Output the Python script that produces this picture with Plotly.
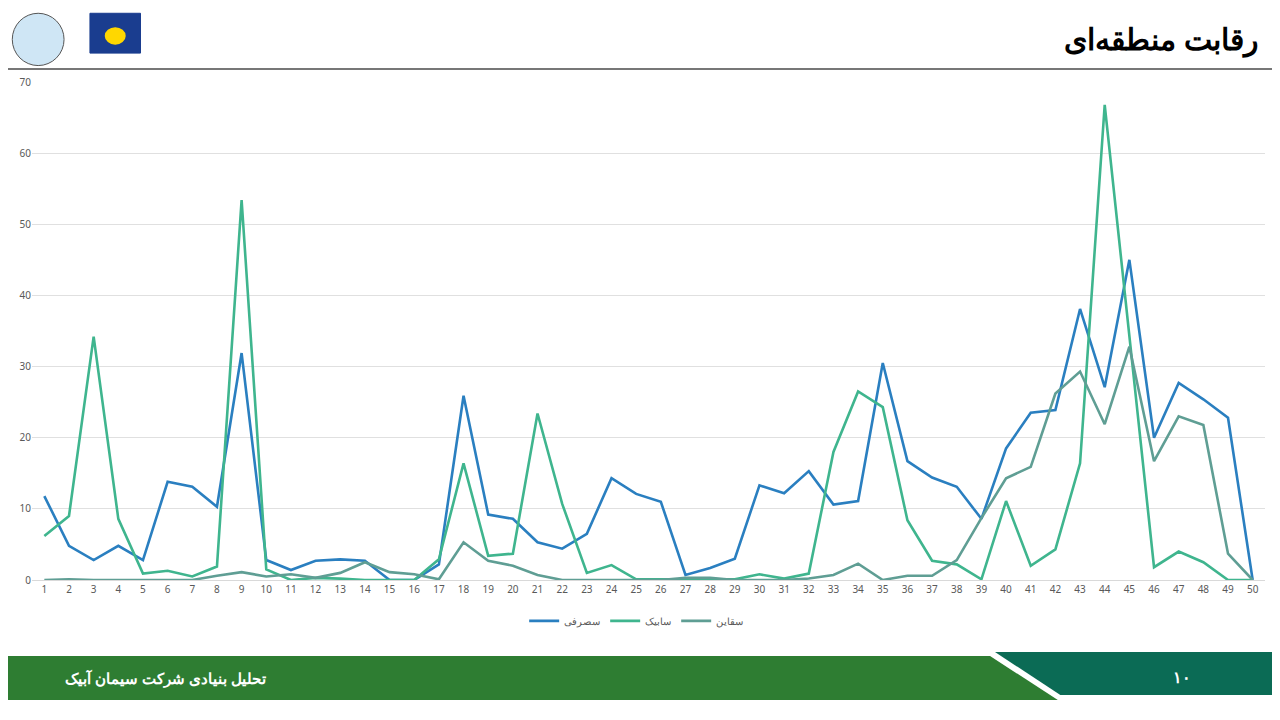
import plotly.graph_objects as go

x = list(range(1, 51))
sasarfi = [11.8,4.8,2.8,4.8,2.8,13.8,13.1,10.3,31.9,2.8,1.4,2.7,2.9,2.7,0,0,2.2,25.9,9.2,8.6,5.3,4.4,6.5,14.3,12.1,11,0.7,1.7,3,13.3,12.2,15.3,10.6,11.1,30.5,16.7,14.4,13.1,8.6,18.5,23.5,23.9,38.1,27.1,45,20,27.7,25.4,22.8,0]
sabik = [6.2,9,34.2,8.6,0.9,1.3,0.5,1.9,53.4,1.5,0,0.3,0.2,0,0,0,2.9,16.4,3.4,3.7,23.4,10.7,1,2.1,0.1,0.1,0.2,0.1,0.1,0.8,0.2,0.9,18,26.5,24.3,8.4,2.7,2.2,0.1,11.1,2,4.3,16.4,66.8,34,1.8,4,2.5,0,0]
saghaen = [0,0.1,0,0,0,0.1,0,0.6,1.1,0.5,0.8,0.3,1,2.5,1.1,0.8,0.1,5.3,2.7,2,0.7,0,0,0,0,0,0.3,0.3,0,0,0,0.2,0.7,2.3,0,0.6,0.6,2.8,8.7,14.3,15.9,26.2,29.3,21.9,32.8,16.7,23,21.8,3.7,0]

fig = go.Figure()
for name, ys, col in [("سصرفی", sasarfi, "#2a7fc0"), ("سابیک", sabik, "#3fb58e"), ("سقاین", saghaen, "#5f9e94")]:
    fig.add_trace(go.Scatter(x=x, y=ys, name=name, mode="lines", line=dict(color=col, width=2.6)))

shapes = [
    dict(type="line", xref="paper", yref="paper", x0=-0.03, x1=1.02, y0=1.026, y1=1.026, line=dict(color="#777", width=2)),
    dict(type="path", xref="paper", yref="paper", path="M -0.03 -0.1526 L 0.777 -0.1526 L 0.832 -0.241 L -0.03 -0.241 Z", fillcolor="#2e7d32", line=dict(width=0)),
    dict(type="path", xref="paper", yref="paper", path="M 0.781 -0.1446 L 1.02 -0.1446 L 1.02 -0.231 L 0.834 -0.231 Z", fillcolor="#0b6b55", line=dict(width=0)),
    dict(type="circle", xref="paper", yref="paper", x0=-0.016, x1=0.026, y0=1.033, y1=1.138, line=dict(color="#555", width=1), fillcolor="#cfe6f5"),
    dict(type="rect", xref="paper", yref="paper", x0=0.047, x1=0.088, y0=1.058, y1=1.138, line=dict(color="#1a3d8f", width=1), fillcolor="#1a3d8f"),
    dict(type="circle", xref="paper", yref="paper", x0=0.059, x1=0.076, y0=1.075, y1=1.11, line=dict(width=0), fillcolor="#ffd700"),
]
fig.update_layout(
    width=1264, height=704, paper_bgcolor="white", plot_bgcolor="white",
    margin=dict(l=24, r=7, t=74, b=132),
    font=dict(family="Noto Sans", color="#595959"),
    xaxis=dict(range=[0.5, 50.5], tickmode="linear", dtick=1, showgrid=False, showline=True, linecolor="#d9d9d9", tickfont=dict(size=10), ticks=""),
    yaxis=dict(range=[0, 70], dtick=10, gridcolor="#e0e0e0", zeroline=False, tickfont=dict(size=10), ticks=""),
    legend=dict(orientation="h", x=0.49, xanchor="center", y=-0.082, yanchor="middle", font=dict(size=10)),
    shapes=shapes,
    showlegend=True,
)
fig.add_annotation(xref="paper", yref="paper", x=0.996, y=1.088, xanchor="right", yanchor="middle", text="<b>رقابت منطقه‌ای</b>", showarrow=False, font=dict(size=30, color="black", family="Noto Sans"))
fig.add_annotation(xref="paper", yref="paper", x=0.191, y=-0.197, xanchor="right", yanchor="middle", text="<b>تحلیل بنیادی شرکت سیمان آبیک</b>", showarrow=False, font=dict(size=15, color="white"))
fig.add_annotation(xref="paper", yref="paper", x=0.933, y=-0.195, xanchor="center", yanchor="middle", text="<b>۱۰</b>", showarrow=False, font=dict(size=16, color="white"))
fig.write_html("out.html")
